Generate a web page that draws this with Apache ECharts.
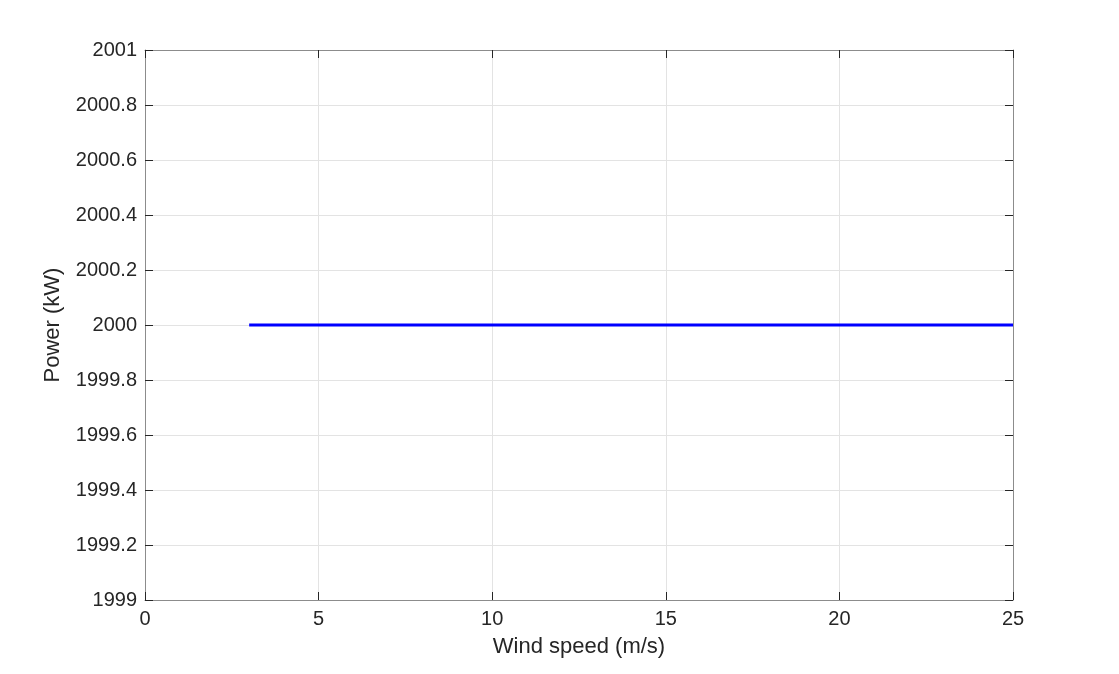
<!DOCTYPE html>
<html><head><meta charset="utf-8">
<script src="https://cdn.jsdelivr.net/npm/echarts@6/dist/echarts.min.js"></script>
<style>html,body{margin:0;padding:0;background:#fff}#c{width:1119px;height:674px}</style>
</head><body><div id="c"></div>
<script>
const windSpeed = [3,4,5,6,7,8,9,10,11,12,13,14,15,16,17,18,19,20,21,22,23,24,25];
const power = [2000,2000,2000,2000,2000,2000,2000,2000,2000,2000,2000,2000,2000,2000,2000,2000,2000,2000,2000,2000,2000,2000,2000];
const xTitle = 'Wind speed (m/s)';
const yTitle = 'Power (kW)';

const font = 'Liberation Sans, Arial, sans-serif';
const chart = echarts.init(document.getElementById('c'));
const axisLine = {show:true, onZero:false, lineStyle:{color:'#8c8c8c', width:1}};
const tick = {show:true, inside:true, length:8, lineStyle:{color:'#262626'}};
const lbl = {color:'#262626', fontSize:20, fontFamily:font};
chart.setOption({
  animation:false,
  grid:{left:145, right:106, top:50, bottom:74, containLabel:false},
  xAxis:[
    {type:'value', min:0, max:25, interval:5, position:'bottom',
     name:xTitle, nameLocation:'middle', nameGap:36,
     nameTextStyle:{color:'#262626', fontSize:22, fontFamily:font},
     axisLine:axisLine, axisTick:tick, axisLabel:Object.assign({margin:9}, lbl),
     splitLine:{show:true, lineStyle:{color:'#e3e3e3'}}},
    {type:'value', min:0, max:25, interval:5, position:'top',
     axisLine:axisLine, axisTick:tick, axisLabel:{show:false}, splitLine:{show:false}}
  ],
  yAxis:[
    {type:'value', min:1999, max:2001, interval:0.2, position:'left',
     name:yTitle, nameLocation:'middle', nameGap:81,
     nameTextStyle:{color:'#262626', fontSize:22, fontFamily:font},
     axisLine:axisLine, axisTick:tick,
     axisLabel:Object.assign({margin:8, formatter:v=>String(Math.round(v*10)/10)}, lbl),
     splitLine:{show:true, lineStyle:{color:'#e3e3e3'}}},
    {type:'value', min:1999, max:2001, interval:0.2, position:'right',
     axisLine:axisLine, axisTick:tick, axisLabel:{show:false}, splitLine:{show:false}}
  ],
  series:[{
    type:'line', xAxisIndex:0, yAxisIndex:0, showSymbol:false,
    data: windSpeed.map((x,i)=>[x, power[i]]),
    lineStyle:{color:'#0000ff', width:3}
  }]
});
</script></body></html>
